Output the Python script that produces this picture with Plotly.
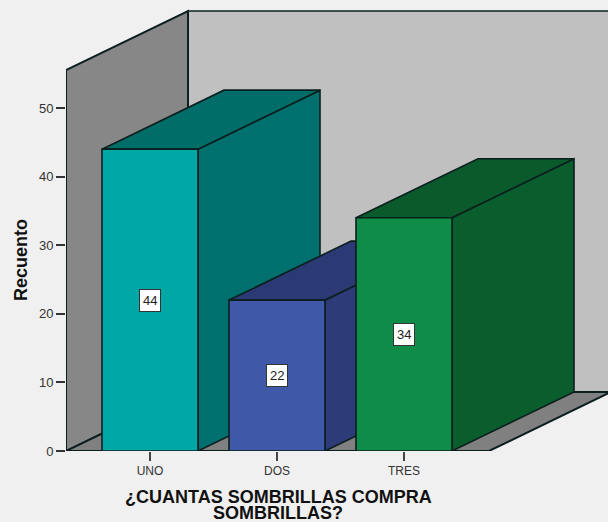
import plotly.graph_objects as go

categories = ["UNO", "DOS", "TRES"]
counts = [44, 22, 34]
front_colors = ["#00A8A5", "#3F58A8", "#0F8C48"]
side_colors = ["#00706E", "#2D3C78", "#0A5E2E"]
top_colors = ["#006D68", "#2B3A74", "#0A5A2C"]
y_ticks = [0, 10, 20, 30, 40, 50]
x_title_lines = ["¿CUANTAS SOMBRILLAS COMPRA", "SOMBRILLAS?"]
y_title = "Recuento"

W, H = 608, 522
ML, MB = 66, 71
PX_PER_UNIT_Y = 6.86
PX_PER_CAT = 127
Y_MAX = (H - MB) / PX_PER_UNIT_Y
X_MIN = -(150 - ML) / PX_PER_CAT
X_MAX = X_MIN + (W - ML) / PX_PER_CAT
DX = 122 / PX_PER_CAT
DY = 59 / PX_PER_UNIT_Y
HALF = 48 / PX_PER_CAT
WALL_TOP = 381 / PX_PER_UNIT_Y
FLOOR_R = X_MIN + 423 / PX_PER_CAT
LINE = "#0B1F1F"

fig = go.Figure()
z = 0


def poly(xs, ys, fill, line=LINE, width=1.6):
    global z
    fig.add_trace(go.Scatter(x=xs, y=ys, mode="lines", fill="toself", fillcolor=fill,
                             line=dict(color=line, width=width), hoverinfo="skip",
                             showlegend=False, zorder=z, cliponaxis=False))
    z += 1


def page_x(px):
    return (px - ML) / (W - ML)


def page_y(py):
    return (H - py - MB) / (H - MB)


# back wall, side wall, floor
poly([X_MIN + DX, X_MAX + 1, X_MAX + 1, X_MIN + DX, X_MIN + DX],
     [DY, DY, WALL_TOP + DY, WALL_TOP + DY, DY], "#C0C0C0")
poly([X_MIN, X_MIN + DX, X_MIN + DX, X_MIN, X_MIN],
     [0, DY, WALL_TOP + DY, WALL_TOP, 0], "#878787", width=2)
poly([X_MIN, FLOOR_R, FLOOR_R + DX, X_MIN + DX, X_MIN],
     [0, 0, DY, DY, 0], "#808080", width=2)

for i, (cat, v) in enumerate(zip(categories, counts)):
    l, r = i - HALF, i + HALF
    poly([r, r + DX, r + DX, r, r], [0, DY, v + DY, v, 0], side_colors[i])
    poly([l, r, r + DX, l + DX, l], [v, v, v + DY, v + DY, v], top_colors[i])
    fig.add_trace(go.Bar(x=[i], y=[v], width=[2 * HALF], marker=dict(color=front_colors[i],
                         line=dict(color=LINE, width=1.6)), name=cat, showlegend=False,
                         zorder=z))
    z += 1

annotations = [
    dict(x=i, y=v / 2, xref="x", yref="y", text=str(v), showarrow=False,
         font=dict(family="Liberation Sans", size=13, color="#222222"), bgcolor="white",
         bordercolor="#333333", borderwidth=1, borderpad=3)
    for i, v in enumerate(counts)
]
title_font = dict(family="Liberation Sans", size=18, color="#111111")
for text, py in zip(x_title_lines, [497, 513]):
    annotations.append(dict(x=page_x(278), y=page_y(py), xref="paper", yref="paper",
                            xanchor="center", yanchor="middle", text=f"<b>{text}</b>",
                            showarrow=False, font=title_font))
annotations.append(dict(x=page_x(21), y=page_y(260), xref="paper", yref="paper",
                        xanchor="center", yanchor="middle", textangle=-90,
                        text=f"<b>{y_title}</b>", showarrow=False,
                        font=dict(family="Liberation Sans", size=18, color="#111111")))

fig.update_layout(
    width=W, height=H, margin=dict(l=ML, r=0, t=0, b=MB, pad=0), autosize=False,
    paper_bgcolor="#F0F0F0", plot_bgcolor="#F0F0F0", barmode="overlay", showlegend=False,
    annotations=annotations,
    xaxis=dict(range=[X_MIN, X_MAX], tickvals=list(range(len(categories))), ticktext=categories,
               ticks="outside", ticklen=9, tickwidth=1.5, tickcolor="#444444", showgrid=False,
               zeroline=False, showline=False,
               tickfont=dict(family="Liberation Sans", size=12, color="#333333")),
    yaxis=dict(range=[0, Y_MAX], tickvals=y_ticks, ticks="outside", ticklen=9, tickwidth=1.5,
               tickcolor="#333333", showgrid=False, zeroline=False, showline=False,
               tickfont=dict(family="Liberation Sans", size=13, color="#333333")),
)

fig.write_html("out.html", config={"displayModeBar": False},
               post_script="document.body.style.margin='0';document.body.style.overflow='hidden';")
